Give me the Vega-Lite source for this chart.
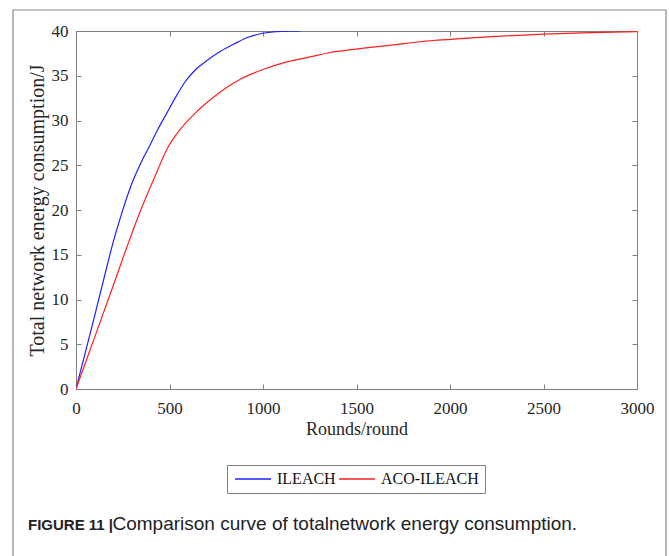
{
  "$schema": "https://vega.github.io/schema/vega-lite/v6.json",
  "width": 561,
  "height": 358,
  "autosize": {"type": "none"},
  "padding": {"left": 76, "top": 31, "right": 32, "bottom": 167},
  "background": "white",
  "config": {
    "view": {"stroke": "#808080", "strokeWidth": 1},
    "font": "Liberation Serif",
    "axis": {
      "domainColor": "#808080",
      "tickColor": "#808080",
      "grid": false,
      "labelFont": "Liberation Serif",
      "labelFontSize": 17,
      "labelColor": "#262626",
      "labelFlush": false,
      "titleFont": "Liberation Serif",
      "titleFontWeight": "normal",
      "titleColor": "#262626",
      "tickSize": -5
    },
    "legend": {
      "orient": "none",
      "legendX": 151,
      "legendY": 434,
      "direction": "horizontal",
      "strokeColor": "#808080",
      "fillColor": "white",
      "padding": 6,
      "symbolType": "M-1,0H5",
      "symbolSize": 144,
      "symbolStrokeWidth": 1.3,
      "labelOffset": 28,
      "labelFont": "Liberation Serif",
      "labelFontSize": 16,
      "labelColor": "#111111",
      "columnPadding": 0
    }
  },
  "title": {
    "text": "FIGURE 11 |",
    "subtitle": "\u200b\u00a0\u00a0\u00a0\u00a0\u00a0\u00a0\u00a0\u00a0\u00a0\u00a0\u00a0\u00a0\u00a0\u00a0\u00a0\u00a0Comparison curve of totalnetwork energy consumption.",
    "orient": "bottom",
    "anchor": "start",
    "frame": "group",
    "offset": -44,
    "dx": -48,
    "font": "Liberation Sans",
    "fontSize": 15,
    "fontWeight": "bold",
    "color": "#222222",
    "subtitleFont": "Liberation Sans",
    "subtitleFontSize": 19,
    "subtitleFontWeight": "normal",
    "subtitleColor": "#222222",
    "subtitlePadding": -18
  },
  "data": {
    "values": [
      {"series": "ILEACH", "round": 0, "energy": 0},
      {"series": "ILEACH", "round": 50, "energy": 4.1},
      {"series": "ILEACH", "round": 100, "energy": 8.2},
      {"series": "ILEACH", "round": 150, "energy": 12.4},
      {"series": "ILEACH", "round": 200, "energy": 16.5},
      {"series": "ILEACH", "round": 244, "energy": 19.6},
      {"series": "ILEACH", "round": 307, "energy": 23.4},
      {"series": "ILEACH", "round": 350, "energy": 25.4},
      {"series": "ILEACH", "round": 392, "energy": 27.1},
      {"series": "ILEACH", "round": 440, "energy": 29.1},
      {"series": "ILEACH", "round": 485, "energy": 30.8},
      {"series": "ILEACH", "round": 530, "energy": 32.5},
      {"series": "ILEACH", "round": 583, "energy": 34.3},
      {"series": "ILEACH", "round": 640, "energy": 35.7},
      {"series": "ILEACH", "round": 700, "energy": 36.7},
      {"series": "ILEACH", "round": 771, "energy": 37.7},
      {"series": "ILEACH", "round": 850, "energy": 38.6},
      {"series": "ILEACH", "round": 920, "energy": 39.3},
      {"series": "ILEACH", "round": 1000, "energy": 39.75},
      {"series": "ILEACH", "round": 1100, "energy": 39.95},
      {"series": "ILEACH", "round": 1200, "energy": 40},
      {"series": "ACO-ILEACH", "round": 0, "energy": 0},
      {"series": "ACO-ILEACH", "round": 100, "energy": 5.8},
      {"series": "ACO-ILEACH", "round": 200, "energy": 11.6},
      {"series": "ACO-ILEACH", "round": 285, "energy": 16.6},
      {"series": "ACO-ILEACH", "round": 339, "energy": 19.6},
      {"series": "ACO-ILEACH", "round": 414, "energy": 23.35},
      {"series": "ACO-ILEACH", "round": 494, "energy": 27.1},
      {"series": "ACO-ILEACH", "round": 557, "energy": 29.0},
      {"series": "ACO-ILEACH", "round": 646, "energy": 31.0},
      {"series": "ACO-ILEACH", "round": 735, "energy": 32.6},
      {"series": "ACO-ILEACH", "round": 800, "energy": 33.6},
      {"series": "ACO-ILEACH", "round": 878, "energy": 34.6},
      {"series": "ACO-ILEACH", "round": 1000, "energy": 35.7},
      {"series": "ACO-ILEACH", "round": 1128, "energy": 36.55},
      {"series": "ACO-ILEACH", "round": 1250, "energy": 37.1},
      {"series": "ACO-ILEACH", "round": 1360, "energy": 37.6},
      {"series": "ACO-ILEACH", "round": 1485, "energy": 37.95},
      {"series": "ACO-ILEACH", "round": 1700, "energy": 38.45},
      {"series": "ACO-ILEACH", "round": 1842, "energy": 38.8},
      {"series": "ACO-ILEACH", "round": 2002, "energy": 39.07},
      {"series": "ACO-ILEACH", "round": 2250, "energy": 39.4},
      {"series": "ACO-ILEACH", "round": 2502, "energy": 39.66},
      {"series": "ACO-ILEACH", "round": 2750, "energy": 39.82},
      {"series": "ACO-ILEACH", "round": 3000, "energy": 39.92}
    ]
  },
  "layer": [
    {
      "data": {"values": [{"frame": 1}]},
      "mark": {"type": "rect", "filled": false, "stroke": "#8a8a8a", "strokeWidth": 1.2, "clip": false},
      "encoding": {
        "x": {"value": -63},
        "x2": {"value": 590},
        "y": {"value": -21},
        "y2": {"value": 530}
      }
    },
    {
      "mark": {"type": "line", "strokeWidth": 1.2, "clip": true, "interpolate": "monotone"},
      "encoding": {
        "x": {
          "field": "round",
          "type": "quantitative",
          "scale": {"domain": [0, 3000], "nice": false},
          "axis": {
            "orient": "bottom",
            "values": [0, 500, 1000, 1500, 2000, 2500, 3000],
            "format": "d",
            "title": "Rounds/round",
            "titleFontSize": 18,
            "titlePadding": 4,
            "labelPadding": 16
          }
        },
        "y": {
          "field": "energy",
          "type": "quantitative",
          "scale": {"domain": [0, 40], "nice": false},
          "axis": {
            "orient": "left",
            "values": [0, 5, 10, 15, 20, 25, 30, 35, 40],
            "title": "Total network energy consumption/J",
            "titleFontSize": 20,
            "titlePadding": 4,
            "labelPadding": 13
          }
        },
        "color": {
          "field": "series",
          "type": "nominal",
          "sort": ["ILEACH", "ACO-ILEACH"],
          "scale": {"domain": ["ILEACH", "ACO-ILEACH"], "range": ["#1f1fff", "#ff1f1f"]},
          "legend": {"title": null}
        },
        "order": {"field": "round", "type": "quantitative"}
      }
    },
    {
      "mark": {"type": "line", "opacity": 0},
      "encoding": {
        "x": {
          "field": "round",
          "type": "quantitative",
          "axis": {"orient": "top", "values": [0, 500, 1000, 1500, 2000, 2500, 3000], "labels": false, "title": null}
        },
        "y": {
          "field": "energy",
          "type": "quantitative",
          "axis": {"orient": "right", "values": [0, 5, 10, 15, 20, 25, 30, 35, 40], "labels": false, "title": null}
        },
        "detail": {"field": "series", "type": "nominal"}
      }
    }
  ],
  "resolve": {"axis": {"x": "independent", "y": "independent"}}
}
